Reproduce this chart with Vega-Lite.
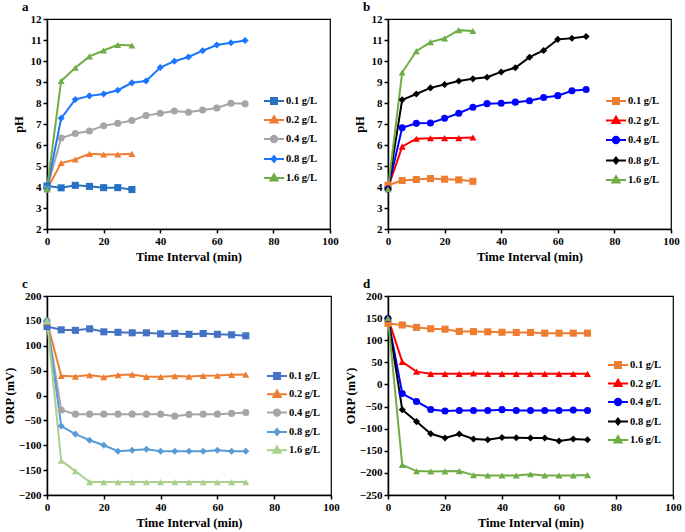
{
  "$schema": "https://vega.github.io/schema/vega-lite/v6.json",
  "padding": {"left": 2, "top": 0, "right": 0, "bottom": 0},
  "background": "white",
  "datasets": {
    "pa": [
      {"t": 0, "c": "0.1 g/L", "v": 4.05}, {"t": 5, "c": "0.1 g/L", "v": 3.96}, {"t": 10, "c": "0.1 g/L", "v": 4.08}, {"t": 15, "c": "0.1 g/L", "v": 4.03}, {"t": 20, "c": "0.1 g/L", "v": 3.97}, {"t": 25, "c": "0.1 g/L", "v": 3.97}, {"t": 30, "c": "0.1 g/L", "v": 3.88},
      {"t": 0, "c": "0.2 g/L", "v": 3.9}, {"t": 5, "c": "0.2 g/L", "v": 5.14}, {"t": 10, "c": "0.2 g/L", "v": 5.31}, {"t": 15, "c": "0.2 g/L", "v": 5.58}, {"t": 20, "c": "0.2 g/L", "v": 5.55}, {"t": 25, "c": "0.2 g/L", "v": 5.55}, {"t": 30, "c": "0.2 g/L", "v": 5.58},
      {"t": 0, "c": "0.4 g/L", "v": 3.9}, {"t": 5, "c": "0.4 g/L", "v": 6.33}, {"t": 10, "c": "0.4 g/L", "v": 6.55}, {"t": 15, "c": "0.4 g/L", "v": 6.67}, {"t": 20, "c": "0.4 g/L", "v": 6.92}, {"t": 25, "c": "0.4 g/L", "v": 7.03}, {"t": 30, "c": "0.4 g/L", "v": 7.17}, {"t": 35, "c": "0.4 g/L", "v": 7.4}, {"t": 40, "c": "0.4 g/L", "v": 7.51}, {"t": 45, "c": "0.4 g/L", "v": 7.62}, {"t": 50, "c": "0.4 g/L", "v": 7.56}, {"t": 55, "c": "0.4 g/L", "v": 7.67}, {"t": 60, "c": "0.4 g/L", "v": 7.76}, {"t": 65, "c": "0.4 g/L", "v": 7.99}, {"t": 70, "c": "0.4 g/L", "v": 7.96},
      {"t": 0, "c": "0.8 g/L", "v": 3.9}, {"t": 5, "c": "0.8 g/L", "v": 7.27}, {"t": 10, "c": "0.8 g/L", "v": 8.17}, {"t": 15, "c": "0.8 g/L", "v": 8.34}, {"t": 20, "c": "0.8 g/L", "v": 8.43}, {"t": 25, "c": "0.8 g/L", "v": 8.61}, {"t": 30, "c": "0.8 g/L", "v": 8.96}, {"t": 35, "c": "0.8 g/L", "v": 9.05}, {"t": 40, "c": "0.8 g/L", "v": 9.69}, {"t": 45, "c": "0.8 g/L", "v": 9.99}, {"t": 50, "c": "0.8 g/L", "v": 10.19}, {"t": 55, "c": "0.8 g/L", "v": 10.49}, {"t": 60, "c": "0.8 g/L", "v": 10.76}, {"t": 65, "c": "0.8 g/L", "v": 10.87}, {"t": 70, "c": "0.8 g/L", "v": 10.98},
      {"t": 0, "c": "1.6 g/L", "v": 3.9}, {"t": 5, "c": "1.6 g/L", "v": 9.05}, {"t": 10, "c": "1.6 g/L", "v": 9.68}, {"t": 15, "c": "1.6 g/L", "v": 10.22}, {"t": 20, "c": "1.6 g/L", "v": 10.5}, {"t": 25, "c": "1.6 g/L", "v": 10.77}, {"t": 30, "c": "1.6 g/L", "v": 10.74}
    ],
    "pb": [
      {"t": 0, "c": "0.1 g/L", "v": 4.08}, {"t": 5, "c": "0.1 g/L", "v": 4.31}, {"t": 10, "c": "0.1 g/L", "v": 4.36}, {"t": 15, "c": "0.1 g/L", "v": 4.4}, {"t": 20, "c": "0.1 g/L", "v": 4.37}, {"t": 25, "c": "0.1 g/L", "v": 4.34}, {"t": 30, "c": "0.1 g/L", "v": 4.27},
      {"t": 0, "c": "0.2 g/L", "v": 3.95}, {"t": 5, "c": "0.2 g/L", "v": 5.92}, {"t": 10, "c": "0.2 g/L", "v": 6.3}, {"t": 15, "c": "0.2 g/L", "v": 6.32}, {"t": 20, "c": "0.2 g/L", "v": 6.33}, {"t": 25, "c": "0.2 g/L", "v": 6.33}, {"t": 30, "c": "0.2 g/L", "v": 6.36},
      {"t": 0, "c": "0.4 g/L", "v": 3.9}, {"t": 5, "c": "0.4 g/L", "v": 6.82}, {"t": 10, "c": "0.4 g/L", "v": 7.03}, {"t": 15, "c": "0.4 g/L", "v": 7.05}, {"t": 20, "c": "0.4 g/L", "v": 7.27}, {"t": 25, "c": "0.4 g/L", "v": 7.51}, {"t": 30, "c": "0.4 g/L", "v": 7.8}, {"t": 35, "c": "0.4 g/L", "v": 7.97}, {"t": 40, "c": "0.4 g/L", "v": 7.99}, {"t": 45, "c": "0.4 g/L", "v": 8.04}, {"t": 50, "c": "0.4 g/L", "v": 8.11}, {"t": 55, "c": "0.4 g/L", "v": 8.26}, {"t": 60, "c": "0.4 g/L", "v": 8.35}, {"t": 65, "c": "0.4 g/L", "v": 8.58}, {"t": 70, "c": "0.4 g/L", "v": 8.64},
      {"t": 0, "c": "0.8 g/L", "v": 3.9}, {"t": 5, "c": "0.8 g/L", "v": 8.15}, {"t": 10, "c": "0.8 g/L", "v": 8.43}, {"t": 15, "c": "0.8 g/L", "v": 8.72}, {"t": 20, "c": "0.8 g/L", "v": 8.88}, {"t": 25, "c": "0.8 g/L", "v": 9.05}, {"t": 30, "c": "0.8 g/L", "v": 9.15}, {"t": 35, "c": "0.8 g/L", "v": 9.23}, {"t": 40, "c": "0.8 g/L", "v": 9.48}, {"t": 45, "c": "0.8 g/L", "v": 9.68}, {"t": 50, "c": "0.8 g/L", "v": 10.18}, {"t": 55, "c": "0.8 g/L", "v": 10.5}, {"t": 60, "c": "0.8 g/L", "v": 11.03}, {"t": 65, "c": "0.8 g/L", "v": 11.08}, {"t": 70, "c": "0.8 g/L", "v": 11.17},
      {"t": 0, "c": "1.6 g/L", "v": 3.9}, {"t": 5, "c": "1.6 g/L", "v": 9.45}, {"t": 10, "c": "1.6 g/L", "v": 10.47}, {"t": 15, "c": "1.6 g/L", "v": 10.9}, {"t": 20, "c": "1.6 g/L", "v": 11.08}, {"t": 25, "c": "1.6 g/L", "v": 11.47}, {"t": 30, "c": "1.6 g/L", "v": 11.43}
    ],
    "pc": [
      {"t": 0, "c": "0.1 g/L", "v": 138.5}, {"t": 5, "c": "0.1 g/L", "v": 132}, {"t": 10, "c": "0.1 g/L", "v": 131}, {"t": 15, "c": "0.1 g/L", "v": 134}, {"t": 20, "c": "0.1 g/L", "v": 128}, {"t": 25, "c": "0.1 g/L", "v": 127}, {"t": 30, "c": "0.1 g/L", "v": 126}, {"t": 35, "c": "0.1 g/L", "v": 126}, {"t": 40, "c": "0.1 g/L", "v": 124}, {"t": 45, "c": "0.1 g/L", "v": 124.5}, {"t": 50, "c": "0.1 g/L", "v": 123}, {"t": 55, "c": "0.1 g/L", "v": 124.5}, {"t": 60, "c": "0.1 g/L", "v": 123}, {"t": 65, "c": "0.1 g/L", "v": 122}, {"t": 70, "c": "0.1 g/L", "v": 120},
      {"t": 0, "c": "0.2 g/L", "v": 148}, {"t": 5, "c": "0.2 g/L", "v": 39.5}, {"t": 10, "c": "0.2 g/L", "v": 38}, {"t": 15, "c": "0.2 g/L", "v": 41}, {"t": 20, "c": "0.2 g/L", "v": 37}, {"t": 25, "c": "0.2 g/L", "v": 41}, {"t": 30, "c": "0.2 g/L", "v": 42}, {"t": 35, "c": "0.2 g/L", "v": 37.5}, {"t": 40, "c": "0.2 g/L", "v": 37.5}, {"t": 45, "c": "0.2 g/L", "v": 39}, {"t": 50, "c": "0.2 g/L", "v": 38}, {"t": 55, "c": "0.2 g/L", "v": 39.5}, {"t": 60, "c": "0.2 g/L", "v": 40}, {"t": 65, "c": "0.2 g/L", "v": 41.5}, {"t": 70, "c": "0.2 g/L", "v": 42},
      {"t": 0, "c": "0.4 g/L", "v": 150}, {"t": 5, "c": "0.4 g/L", "v": -29}, {"t": 10, "c": "0.4 g/L", "v": -37.5}, {"t": 15, "c": "0.4 g/L", "v": -37.5}, {"t": 20, "c": "0.4 g/L", "v": -37.5}, {"t": 25, "c": "0.4 g/L", "v": -37.5}, {"t": 30, "c": "0.4 g/L", "v": -37.5}, {"t": 35, "c": "0.4 g/L", "v": -37.5}, {"t": 40, "c": "0.4 g/L", "v": -37.5}, {"t": 45, "c": "0.4 g/L", "v": -41.5}, {"t": 50, "c": "0.4 g/L", "v": -38}, {"t": 55, "c": "0.4 g/L", "v": -37.5}, {"t": 60, "c": "0.4 g/L", "v": -37.5}, {"t": 65, "c": "0.4 g/L", "v": -36}, {"t": 70, "c": "0.4 g/L", "v": -34},
      {"t": 0, "c": "0.8 g/L", "v": 150}, {"t": 5, "c": "0.8 g/L", "v": -61.5}, {"t": 10, "c": "0.8 g/L", "v": -77.6}, {"t": 15, "c": "0.8 g/L", "v": -90}, {"t": 20, "c": "0.8 g/L", "v": -100}, {"t": 25, "c": "0.8 g/L", "v": -112}, {"t": 30, "c": "0.8 g/L", "v": -110}, {"t": 35, "c": "0.8 g/L", "v": -108}, {"t": 40, "c": "0.8 g/L", "v": -112}, {"t": 45, "c": "0.8 g/L", "v": -112}, {"t": 50, "c": "0.8 g/L", "v": -112}, {"t": 55, "c": "0.8 g/L", "v": -112}, {"t": 60, "c": "0.8 g/L", "v": -110}, {"t": 65, "c": "0.8 g/L", "v": -112}, {"t": 70, "c": "0.8 g/L", "v": -112},
      {"t": 0, "c": "1.6 g/L", "v": 150}, {"t": 5, "c": "1.6 g/L", "v": -131}, {"t": 10, "c": "1.6 g/L", "v": -152}, {"t": 15, "c": "1.6 g/L", "v": -174}, {"t": 20, "c": "1.6 g/L", "v": -174}, {"t": 25, "c": "1.6 g/L", "v": -174}, {"t": 30, "c": "1.6 g/L", "v": -174}, {"t": 35, "c": "1.6 g/L", "v": -174}, {"t": 40, "c": "1.6 g/L", "v": -174}, {"t": 45, "c": "1.6 g/L", "v": -174}, {"t": 50, "c": "1.6 g/L", "v": -174}, {"t": 55, "c": "1.6 g/L", "v": -174}, {"t": 60, "c": "1.6 g/L", "v": -174}, {"t": 65, "c": "1.6 g/L", "v": -174}, {"t": 70, "c": "1.6 g/L", "v": -174}
    ],
    "pd": [
      {"t": 0, "c": "0.1 g/L", "v": 138}, {"t": 5, "c": "0.1 g/L", "v": 134.5}, {"t": 10, "c": "0.1 g/L", "v": 129}, {"t": 15, "c": "0.1 g/L", "v": 126}, {"t": 20, "c": "0.1 g/L", "v": 125}, {"t": 25, "c": "0.1 g/L", "v": 120}, {"t": 30, "c": "0.1 g/L", "v": 119.5}, {"t": 35, "c": "0.1 g/L", "v": 119}, {"t": 40, "c": "0.1 g/L", "v": 118}, {"t": 45, "c": "0.1 g/L", "v": 117.5}, {"t": 50, "c": "0.1 g/L", "v": 117.5}, {"t": 55, "c": "0.1 g/L", "v": 116}, {"t": 60, "c": "0.1 g/L", "v": 116}, {"t": 65, "c": "0.1 g/L", "v": 116}, {"t": 70, "c": "0.1 g/L", "v": 116},
      {"t": 0, "c": "0.2 g/L", "v": 150}, {"t": 5, "c": "0.2 g/L", "v": 51}, {"t": 10, "c": "0.2 g/L", "v": 29}, {"t": 15, "c": "0.2 g/L", "v": 24}, {"t": 20, "c": "0.2 g/L", "v": 24}, {"t": 25, "c": "0.2 g/L", "v": 24}, {"t": 30, "c": "0.2 g/L", "v": 25}, {"t": 35, "c": "0.2 g/L", "v": 24}, {"t": 40, "c": "0.2 g/L", "v": 24}, {"t": 45, "c": "0.2 g/L", "v": 24}, {"t": 50, "c": "0.2 g/L", "v": 24}, {"t": 55, "c": "0.2 g/L", "v": 24}, {"t": 60, "c": "0.2 g/L", "v": 24}, {"t": 65, "c": "0.2 g/L", "v": 24}, {"t": 70, "c": "0.2 g/L", "v": 24},
      {"t": 0, "c": "0.4 g/L", "v": 149}, {"t": 5, "c": "0.4 g/L", "v": -20.5}, {"t": 10, "c": "0.4 g/L", "v": -38.5}, {"t": 15, "c": "0.4 g/L", "v": -56.5}, {"t": 20, "c": "0.4 g/L", "v": -60}, {"t": 25, "c": "0.4 g/L", "v": -59}, {"t": 30, "c": "0.4 g/L", "v": -59}, {"t": 35, "c": "0.4 g/L", "v": -59}, {"t": 40, "c": "0.4 g/L", "v": -57}, {"t": 45, "c": "0.4 g/L", "v": -59}, {"t": 50, "c": "0.4 g/L", "v": -59}, {"t": 55, "c": "0.4 g/L", "v": -59}, {"t": 60, "c": "0.4 g/L", "v": -59}, {"t": 65, "c": "0.4 g/L", "v": -58}, {"t": 70, "c": "0.4 g/L", "v": -59},
      {"t": 0, "c": "0.8 g/L", "v": 150}, {"t": 5, "c": "0.8 g/L", "v": -57}, {"t": 10, "c": "0.8 g/L", "v": -84}, {"t": 15, "c": "0.8 g/L", "v": -111.5}, {"t": 20, "c": "0.8 g/L", "v": -121}, {"t": 25, "c": "0.8 g/L", "v": -112}, {"t": 30, "c": "0.8 g/L", "v": -123.5}, {"t": 35, "c": "0.8 g/L", "v": -125}, {"t": 40, "c": "0.8 g/L", "v": -120}, {"t": 45, "c": "0.8 g/L", "v": -120.5}, {"t": 50, "c": "0.8 g/L", "v": -121}, {"t": 55, "c": "0.8 g/L", "v": -121}, {"t": 60, "c": "0.8 g/L", "v": -128}, {"t": 65, "c": "0.8 g/L", "v": -123.5}, {"t": 70, "c": "0.8 g/L", "v": -125},
      {"t": 0, "c": "1.6 g/L", "v": 150}, {"t": 5, "c": "1.6 g/L", "v": -182}, {"t": 10, "c": "1.6 g/L", "v": -196}, {"t": 15, "c": "1.6 g/L", "v": -197}, {"t": 20, "c": "1.6 g/L", "v": -196.5}, {"t": 25, "c": "1.6 g/L", "v": -196}, {"t": 30, "c": "1.6 g/L", "v": -205}, {"t": 35, "c": "1.6 g/L", "v": -206}, {"t": 40, "c": "1.6 g/L", "v": -206}, {"t": 45, "c": "1.6 g/L", "v": -206}, {"t": 50, "c": "1.6 g/L", "v": -203}, {"t": 55, "c": "1.6 g/L", "v": -206}, {"t": 60, "c": "1.6 g/L", "v": -206}, {"t": 65, "c": "1.6 g/L", "v": -206}, {"t": 70, "c": "1.6 g/L", "v": -205}
    ]
  },
  "columns": 2,
  "spacing": {"column": 3, "row": 13},
  "concat": [
    {
      "title": {"text": "a"},
      "width": 283,
      "height": 210,
      "data": {"name": "pa"},
      "encoding": {
        "x": {"field": "t", "type": "quantitative", "title": "Time Interval (min)", "scale": {"domain": [0, 100], "nice": false}, "axis": {"values": [0, 20, 40, 60, 80, 100], "labelOverlap": false}},
        "y": {"field": "v", "type": "quantitative", "title": "pH", "scale": {"domain": [2, 12], "nice": false, "zero": false}, "axis": {"values": [2, 3, 4, 5, 6, 7, 8, 9, 10, 11, 12], "labelOverlap": false, "minExtent": 17, "maxExtent": 17, "titlePadding": 5}}
      },
      "layer": [
        {
          "mark": {"type": "line", "strokeWidth": 2},
          "encoding": {
            "color": {"field": "c", "type": "nominal", "legend": null, "scale": {"domain": ["0.1 g/L", "0.2 g/L", "0.4 g/L", "0.8 g/L", "1.6 g/L"], "range": ["#2671c2", "#ed7d31", "#a5a5a5", "#1a75ff", "#70ad47"]}}
          }
        },
        {
          "mark": {"type": "point", "filled": true, "opacity": 1, "size": 50},
          "encoding": {
            "color": {"field": "c", "type": "nominal", "legend": null},
            "shape": {"field": "c", "type": "nominal", "legend": null, "scale": {"domain": ["0.1 g/L", "0.2 g/L", "0.4 g/L", "0.8 g/L", "1.6 g/L"], "range": ["square", "triangle-up", "circle", "diamond", "triangle-up"]}}
          }
        },
        {
          "transform": [{"filter": "false"}],
          "mark": {"type": "point", "strokeWidth": 2, "opacity": 1},
          "encoding": {
            "fill": {"field": "c", "type": "nominal", "scale": {"domain": ["0.1 g/L", "0.2 g/L", "0.4 g/L", "0.8 g/L", "1.6 g/L"], "range": ["#2671c2", "#ed7d31", "#a5a5a5", "#1a75ff", "#70ad47"]}, "legend": {"orient": "none", "legendX": 216, "legendY": 71, "rowPadding": 1}},
            "stroke": {"field": "c", "type": "nominal", "scale": {"domain": ["0.1 g/L", "0.2 g/L", "0.4 g/L", "0.8 g/L", "1.6 g/L"], "range": ["#2671c2", "#ed7d31", "#a5a5a5", "#1a75ff", "#70ad47"]}, "legend": {"orient": "none", "legendX": 216, "legendY": 71, "rowPadding": 1}},
            "shape": {"field": "c", "type": "nominal", "scale": {"domain": ["0.1 g/L", "0.2 g/L", "0.4 g/L", "0.8 g/L", "1.6 g/L"], "range": ["M-1,0H1M-0.3,-0.3H0.3V0.3H-0.3Z", "M-1,0H1M0,-0.38L0.36,0.26H-0.36Z", "M-1,0H1M0.32,0A0.32,0.32,0,1,1,-0.32,0A0.32,0.32,0,1,1,0.32,0Z", "M-1,0H1M0,-0.3L0.24,0L0,0.3L-0.24,0Z", "M-1,0H1M0,-0.38L0.36,0.26H-0.36Z"]}, "legend": {"orient": "none", "legendX": 216, "legendY": 71, "rowPadding": 1}}
          }
        }
      ],
      "resolve": {"scale": {"shape": "independent", "fill": "independent", "stroke": "independent"}}
    },
    {
      "title": {"text": "b"},
      "width": 283,
      "height": 210,
      "data": {"name": "pb"},
      "encoding": {
        "x": {"field": "t", "type": "quantitative", "title": "Time Interval (min)", "scale": {"domain": [0, 100], "nice": false}, "axis": {"values": [0, 20, 40, 60, 80, 100], "labelOverlap": false}},
        "y": {"field": "v", "type": "quantitative", "title": "pH", "scale": {"domain": [2, 12], "nice": false, "zero": false}, "axis": {"values": [2, 3, 4, 5, 6, 7, 8, 9, 10, 11, 12], "labelOverlap": false, "minExtent": 17, "maxExtent": 17, "titlePadding": 5}}
      },
      "layer": [
        {
          "mark": {"type": "line", "strokeWidth": 2},
          "encoding": {
            "color": {"field": "c", "type": "nominal", "legend": null, "scale": {"domain": ["0.1 g/L", "0.2 g/L", "0.4 g/L", "0.8 g/L", "1.6 g/L"], "range": ["#ed7d31", "#ff0000", "#0000ff", "#000000", "#70ad47"]}}
          }
        },
        {
          "mark": {"type": "point", "filled": true, "opacity": 1, "size": 50},
          "encoding": {
            "color": {"field": "c", "type": "nominal", "legend": null},
            "shape": {"field": "c", "type": "nominal", "legend": null, "scale": {"domain": ["0.1 g/L", "0.2 g/L", "0.4 g/L", "0.8 g/L", "1.6 g/L"], "range": ["square", "triangle-up", "circle", "diamond", "triangle-up"]}}
          }
        },
        {
          "transform": [{"filter": "false"}],
          "mark": {"type": "point", "strokeWidth": 2, "opacity": 1},
          "encoding": {
            "fill": {"field": "c", "type": "nominal", "scale": {"domain": ["0.1 g/L", "0.2 g/L", "0.4 g/L", "0.8 g/L", "1.6 g/L"], "range": ["#ed7d31", "#ff0000", "#0000ff", "#000000", "#70ad47"]}, "legend": {"orient": "none", "legendX": 217, "legendY": 71, "rowPadding": 1.5}},
            "stroke": {"field": "c", "type": "nominal", "scale": {"domain": ["0.1 g/L", "0.2 g/L", "0.4 g/L", "0.8 g/L", "1.6 g/L"], "range": ["#ed7d31", "#ff0000", "#0000ff", "#000000", "#70ad47"]}, "legend": {"orient": "none", "legendX": 217, "legendY": 71, "rowPadding": 1.5}},
            "shape": {"field": "c", "type": "nominal", "scale": {"domain": ["0.1 g/L", "0.2 g/L", "0.4 g/L", "0.8 g/L", "1.6 g/L"], "range": ["M-1,0H1M-0.3,-0.3H0.3V0.3H-0.3Z", "M-1,0H1M0,-0.38L0.36,0.26H-0.36Z", "M-1,0H1M0.32,0A0.32,0.32,0,1,1,-0.32,0A0.32,0.32,0,1,1,0.32,0Z", "M-1,0H1M0,-0.3L0.24,0L0,0.3L-0.24,0Z", "M-1,0H1M0,-0.38L0.36,0.26H-0.36Z"]}, "legend": {"orient": "none", "legendX": 217, "legendY": 71, "rowPadding": 1.5}}
          }
        }
      ],
      "resolve": {"scale": {"shape": "independent", "fill": "independent", "stroke": "independent"}}
    },
    {
      "title": {"text": "c"},
      "width": 284,
      "height": 199,
      "data": {"name": "pc"},
      "encoding": {
        "x": {"field": "t", "type": "quantitative", "title": "Time Interval (min)", "scale": {"domain": [0, 100], "nice": false}, "axis": {"values": [0, 20, 40, 60, 80, 100], "labelOverlap": false}},
        "y": {"field": "v", "type": "quantitative", "title": "ORP (mV)", "scale": {"domain": [-200, 200], "nice": false, "zero": false}, "axis": {"values": [-200, -150, -100, -50, 0, 50, 100, 150, 200], "labelOverlap": false, "minExtent": 26, "maxExtent": 26, "titlePadding": 5}}
      },
      "layer": [
        {
          "mark": {"type": "line", "strokeWidth": 2},
          "encoding": {
            "color": {"field": "c", "type": "nominal", "legend": null, "scale": {"domain": ["0.1 g/L", "0.2 g/L", "0.4 g/L", "0.8 g/L", "1.6 g/L"], "range": ["#4472c4", "#ed7d31", "#a5a5a5", "#5b9bd5", "#a9d18e"]}}
          }
        },
        {
          "mark": {"type": "point", "filled": true, "opacity": 1, "size": 50},
          "encoding": {
            "color": {"field": "c", "type": "nominal", "legend": null},
            "shape": {"field": "c", "type": "nominal", "legend": null, "scale": {"domain": ["0.1 g/L", "0.2 g/L", "0.4 g/L", "0.8 g/L", "1.6 g/L"], "range": ["square", "triangle-up", "circle", "diamond", "triangle-up"]}}
          }
        },
        {
          "transform": [{"filter": "false"}],
          "mark": {"type": "point", "strokeWidth": 2, "opacity": 1},
          "encoding": {
            "fill": {"field": "c", "type": "nominal", "scale": {"domain": ["0.1 g/L", "0.2 g/L", "0.4 g/L", "0.8 g/L", "1.6 g/L"], "range": ["#4472c4", "#ed7d31", "#a5a5a5", "#5b9bd5", "#a9d18e"]}, "legend": {"orient": "none", "legendX": 219, "legendY": 69, "rowPadding": 0.3}},
            "stroke": {"field": "c", "type": "nominal", "scale": {"domain": ["0.1 g/L", "0.2 g/L", "0.4 g/L", "0.8 g/L", "1.6 g/L"], "range": ["#4472c4", "#ed7d31", "#a5a5a5", "#5b9bd5", "#a9d18e"]}, "legend": {"orient": "none", "legendX": 219, "legendY": 69, "rowPadding": 0.3}},
            "shape": {"field": "c", "type": "nominal", "scale": {"domain": ["0.1 g/L", "0.2 g/L", "0.4 g/L", "0.8 g/L", "1.6 g/L"], "range": ["M-1,0H1M-0.3,-0.3H0.3V0.3H-0.3Z", "M-1,0H1M0,-0.38L0.36,0.26H-0.36Z", "M-1,0H1M0.32,0A0.32,0.32,0,1,1,-0.32,0A0.32,0.32,0,1,1,0.32,0Z", "M-1,0H1M0,-0.3L0.24,0L0,0.3L-0.24,0Z", "M-1,0H1M0,-0.38L0.36,0.26H-0.36Z"]}, "legend": {"orient": "none", "legendX": 219, "legendY": 69, "rowPadding": 0.3}}
          }
        }
      ],
      "resolve": {"scale": {"shape": "independent", "fill": "independent", "stroke": "independent"}}
    },
    {
      "title": {"text": "d"},
      "width": 285,
      "height": 199,
      "data": {"name": "pd"},
      "encoding": {
        "x": {"field": "t", "type": "quantitative", "title": "Time Interval (min)", "scale": {"domain": [0, 100], "nice": false}, "axis": {"values": [0, 20, 40, 60, 80, 100], "labelOverlap": false}},
        "y": {"field": "v", "type": "quantitative", "title": "ORP (mV)", "scale": {"domain": [-250, 200], "nice": false, "zero": false}, "axis": {"values": [-250, -200, -150, -100, -50, 0, 50, 100, 150, 200], "labelOverlap": false, "minExtent": 26, "maxExtent": 26, "titlePadding": 5}}
      },
      "layer": [
        {
          "mark": {"type": "line", "strokeWidth": 2},
          "encoding": {
            "color": {"field": "c", "type": "nominal", "legend": null, "scale": {"domain": ["0.1 g/L", "0.2 g/L", "0.4 g/L", "0.8 g/L", "1.6 g/L"], "range": ["#ed7d31", "#ff0000", "#0000ff", "#000000", "#70ad47"]}}
          }
        },
        {
          "mark": {"type": "point", "filled": true, "opacity": 1, "size": 50},
          "encoding": {
            "color": {"field": "c", "type": "nominal", "legend": null},
            "shape": {"field": "c", "type": "nominal", "legend": null, "scale": {"domain": ["0.1 g/L", "0.2 g/L", "0.4 g/L", "0.8 g/L", "1.6 g/L"], "range": ["square", "triangle-up", "circle", "diamond", "triangle-up"]}}
          }
        },
        {
          "transform": [{"filter": "false"}],
          "mark": {"type": "point", "strokeWidth": 2, "opacity": 1},
          "encoding": {
            "fill": {"field": "c", "type": "nominal", "scale": {"domain": ["0.1 g/L", "0.2 g/L", "0.4 g/L", "0.8 g/L", "1.6 g/L"], "range": ["#ed7d31", "#ff0000", "#0000ff", "#000000", "#70ad47"]}, "legend": {"orient": "none", "legendX": 219, "legendY": 58, "rowPadding": 0.5}},
            "stroke": {"field": "c", "type": "nominal", "scale": {"domain": ["0.1 g/L", "0.2 g/L", "0.4 g/L", "0.8 g/L", "1.6 g/L"], "range": ["#ed7d31", "#ff0000", "#0000ff", "#000000", "#70ad47"]}, "legend": {"orient": "none", "legendX": 219, "legendY": 58, "rowPadding": 0.5}},
            "shape": {"field": "c", "type": "nominal", "scale": {"domain": ["0.1 g/L", "0.2 g/L", "0.4 g/L", "0.8 g/L", "1.6 g/L"], "range": ["M-1,0H1M-0.3,-0.3H0.3V0.3H-0.3Z", "M-1,0H1M0,-0.38L0.36,0.26H-0.36Z", "M-1,0H1M0.32,0A0.32,0.32,0,1,1,-0.32,0A0.32,0.32,0,1,1,0.32,0Z", "M-1,0H1M0,-0.3L0.24,0L0,0.3L-0.24,0Z", "M-1,0H1M0,-0.38L0.36,0.26H-0.36Z"]}, "legend": {"orient": "none", "legendX": 219, "legendY": 58, "rowPadding": 0.5}}
          }
        }
      ],
      "resolve": {"scale": {"shape": "independent", "fill": "independent", "stroke": "independent"}}
    }
  ],
  "resolve": {"scale": {"color": "independent", "shape": "independent", "fill": "independent", "stroke": "independent", "x": "independent", "y": "independent"}},
  "config": {
    "view": {"stroke": "black", "strokeWidth": 1.2},
    "title": {"anchor": "start", "frame": "group", "dx": -25, "offset": -1, "fontSize": 13, "fontWeight": "bold", "font": "Liberation Serif", "color": "black"},
    "axis": {"grid": false, "domainColor": "black", "domainWidth": 1.5, "tickColor": "black", "tickWidth": 1.5, "tickSize": 4, "labelPadding": 2, "labelFont": "Liberation Serif", "labelFontWeight": "bold", "labelFontSize": 11, "labelColor": "black", "labelFlush": false, "labelOverlap": false, "titleFont": "Liberation Serif", "titleFontWeight": "bold", "titleFontSize": 12.5, "titleColor": "black"},
    "axisX": {"titlePadding": 4},
    "legend": {"title": null, "padding": 0, "symbolSize": 400, "symbolStrokeWidth": 2, "labelOffset": 1, "labelFont": "Liberation Serif", "labelFontWeight": "bold", "labelFontSize": 10.5, "labelColor": "black"}
  }
}
